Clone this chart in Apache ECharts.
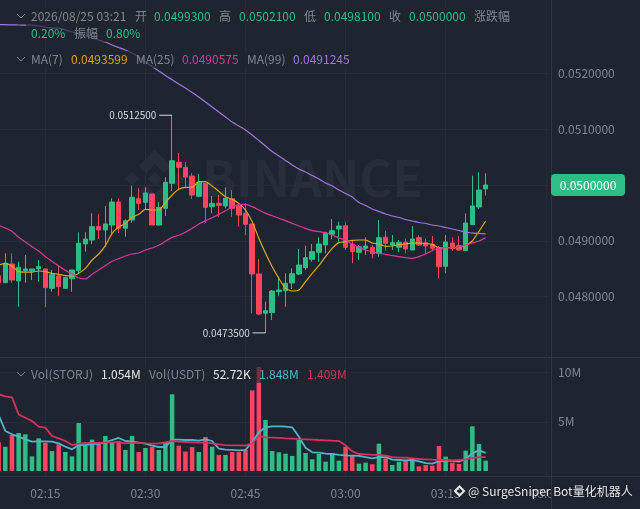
<!DOCTYPE html>
<html><head><meta charset="utf-8">
<style>html,body{margin:0;padding:0;background:#1f2530}#c{width:640px;height:509px}</style>
<script src="https://cdn.jsdelivr.net/npm/echarts@6/dist/echarts.min.js"></script>
</head><body><div id="c"></div>
<script>
const opens=[0.048375,0.048249,0.048584,0.04828,0.048464,0.048459,0.048495,0.048495,0.048149,0.048369,0.048149,0.048321,0.048464,0.048943,0.049014,0.049253,0.049194,0.049283,0.049695,0.049224,0.049373,0.049754,0.04969,0.049839,0.049283,0.049582,0.05003,0.050407,0.050317,0.050161,0.049798,0.05003,0.049611,0.049672,0.049624,0.049754,0.049624,0.049493,0.049301,0.048405,0.047701,0.047712,0.048088,0.048106,0.048244,0.048405,0.048518,0.048669,0.048794,0.048925,0.049117,0.049212,0.049271,0.048937,0.048794,0.048866,0.048884,0.048776,0.049063,0.048925,0.048884,0.048973,0.048835,0.049056,0.048966,0.048937,0.048876,0.048543,0.048961,0.048912,0.048823,0.049289,0.049606,0.04993];
const closes=[0.048249,0.048597,0.048298,0.048525,0.048495,0.048495,0.048536,0.04816,0.048393,0.048178,0.048339,0.048477,0.048955,0.049032,0.049253,0.049194,0.049301,0.049695,0.049224,0.04936,0.04978,0.049672,0.049857,0.049283,0.0496,0.050048,0.050435,0.050317,0.050143,0.049821,0.050048,0.0496,0.049672,0.049636,0.049762,0.049582,0.049462,0.049296,0.048405,0.047688,0.047747,0.0481,0.048118,0.048238,0.04841,0.048566,0.048697,0.048805,0.048943,0.049134,0.049181,0.049265,0.048884,0.048805,0.048894,0.048907,0.048769,0.049056,0.048955,0.048966,0.048973,0.048853,0.049032,0.048925,0.048907,0.048866,0.048536,0.048979,0.048866,0.048835,0.049319,0.049624,0.04991,0.05];
const lows=[0.048249,0.048249,0.048249,0.047819,0.048249,0.048298,0.048267,0.047808,0.048088,0.048016,0.048136,0.048088,0.048418,0.048805,0.048943,0.049032,0.048894,0.049134,0.04914,0.049074,0.049324,0.049552,0.049552,0.049283,0.049271,0.049444,0.049892,0.04991,0.049941,0.049749,0.04978,0.049324,0.049493,0.049432,0.049582,0.049432,0.049253,0.049104,0.047701,0.04767,0.04735,0.047581,0.048016,0.047819,0.048136,0.048387,0.048477,0.048626,0.048626,0.048776,0.049027,0.048984,0.048835,0.048597,0.048656,0.048746,0.048686,0.048715,0.048823,0.048835,0.048794,0.048776,0.048835,0.048907,0.048764,0.048835,0.048328,0.048418,0.048823,0.048823,0.048823,0.049289,0.04957,0.04981];
const highs=[0.048375,0.048776,0.048776,0.048626,0.048746,0.048495,0.048656,0.048495,0.048477,0.048554,0.048357,0.048477,0.049152,0.049152,0.049493,0.04948,0.049624,0.049762,0.049762,0.049385,0.049987,0.049941,0.049959,0.049839,0.049695,0.050138,0.05125,0.050573,0.050412,0.05021,0.050197,0.05003,0.049803,0.049826,0.049959,0.04991,0.049672,0.049672,0.049301,0.048674,0.047909,0.048118,0.048357,0.048418,0.048507,0.048853,0.048912,0.048943,0.049063,0.049163,0.049391,0.049342,0.049332,0.049014,0.048925,0.049063,0.048925,0.049373,0.049181,0.049104,0.049014,0.049045,0.049265,0.049104,0.049045,0.049086,0.048907,0.049104,0.049063,0.049086,0.049493,0.050167,0.050228,0.05021];
const ma7=[0.048566,0.048596,0.048548,0.048447,0.04844,0.04844,0.048459,0.048447,0.048417,0.048399,0.048375,0.048369,0.048417,0.048507,0.048656,0.048763,0.048913,0.049134,0.049241,0.049313,0.04942,0.049474,0.049564,0.049552,0.049552,0.049683,0.04982,0.049922,0.049958,0.049958,0.05006,0.05006,0.049982,0.049886,0.04979,0.049743,0.049671,0.049552,0.049343,0.049044,0.048775,0.048536,0.048327,0.048148,0.0481,0.048118,0.048268,0.048417,0.048554,0.048716,0.048865,0.048967,0.048985,0.049008,0.049014,0.049014,0.04896,0.048943,0.0489,0.048907,0.048931,0.048943,0.04896,0.04896,0.048949,0.048937,0.048877,0.048877,0.048877,0.048883,0.048919,0.048997,0.04917,0.049355];
const ma25=[0.049277,0.04923,0.04917,0.049062,0.048979,0.048895,0.048817,0.048716,0.048632,0.048548,0.04847,0.048405,0.048333,0.048316,0.048399,0.048477,0.048554,0.048632,0.04868,0.048728,0.048763,0.048781,0.048835,0.048871,0.048919,0.04899,0.049062,0.0491,0.049152,0.049223,0.049301,0.049361,0.049414,0.049474,0.04954,0.0496,0.049647,0.049653,0.049612,0.049552,0.049492,0.04945,0.049403,0.049361,0.049313,0.049265,0.049223,0.049182,0.049164,0.049146,0.049104,0.04905,0.049014,0.048937,0.048883,0.048835,0.048799,0.048776,0.048758,0.048734,0.048716,0.048698,0.048686,0.048716,0.048764,0.048823,0.048871,0.048877,0.048877,0.048883,0.048925,0.04896,0.048997,0.049057];
const ma99=[0.052873,0.052873,0.052869,0.052867,0.052865,0.052864,0.052849,0.052831,0.052813,0.05281,0.052781,0.052742,0.05271,0.05267,0.052634,0.052598,0.052563,0.052509,0.052464,0.052419,0.052365,0.052294,0.052204,0.052124,0.052043,0.051962,0.051887,0.05181,0.051738,0.051658,0.051577,0.051487,0.051398,0.051308,0.051219,0.051129,0.051057,0.050986,0.050896,0.050797,0.050699,0.0506,0.05052,0.050439,0.050358,0.050287,0.050233,0.05017,0.050108,0.050036,0.049982,0.04991,0.049848,0.049785,0.049686,0.049633,0.04957,0.049525,0.04948,0.049444,0.049418,0.049382,0.049355,0.049328,0.04931,0.049283,0.049265,0.049238,0.049212,0.049185,0.049158,0.049136,0.049131,0.049125];
const volumes=[2.92,2.47,3.66,3.86,3.73,1.49,3.32,2.88,2.03,2.71,1.93,1.49,4.88,2.58,3.19,2.71,3.56,2.92,3.05,2.14,3.56,1.93,2.34,2.47,2.14,2.92,7.8,2.58,1.97,2.44,1.93,3.46,2.47,1.63,1.63,1.93,1.93,2.14,8.2,10.58,5.19,2.03,1.9,1.76,1.53,3.15,1.83,1.19,1.73,0.95,1.76,1.05,2.47,1.53,0.75,0.85,0.68,2.78,1.29,0.61,0.92,1.12,1.22,0.47,0.61,0.54,2.54,1.46,0.85,0.71,2.07,4.54,2.75,1.054];
const volMaShort=[5.7,4.07,3.73,3.49,3.22,2.98,3.02,3.02,2.98,2.81,2.47,2.2,2.64,2.64,2.75,2.75,2.92,3.15,3.36,3.05,2.98,2.88,2.78,2.58,2.44,2.44,3.19,3.19,3.15,3.15,3.08,3.22,3.05,2.27,2.17,2.14,2.1,2.14,2.92,3.93,4.44,4.54,4.54,4.51,4.44,3.49,2.37,1.9,1.86,1.76,1.73,1.63,1.59,1.56,1.53,1.42,1.29,1.42,1.42,1.15,1.12,1.08,1.12,0.98,0.81,0.75,0.98,1.02,1.02,0.95,1.22,1.8,2.1,1.848];
const volMaLong=[7.8,7.59,7.49,5.76,5.42,5.08,4.51,4.41,3.56,3.32,3.05,2.64,2.78,2.85,2.85,2.85,2.92,2.92,2.92,2.81,2.85,2.85,2.81,2.78,2.81,2.92,3.05,2.98,2.95,2.92,2.88,2.88,2.81,2.71,2.64,2.61,2.61,2.58,2.81,3.56,3.42,3.39,3.36,3.32,3.29,3.25,3.22,3.19,3.15,3.12,3.08,3.05,2.61,2,1.73,1.69,1.63,1.63,1.56,1.42,1.36,1.36,1.29,1.22,1.19,1.15,1.12,1.12,1.08,1.12,1.19,1.32,1.42,1.409];
const startMinute=128, slotCount=83;
const categories=[];
for(let i=0;i<slotCount;i++){const m=startMinute+i;categories.push(String(Math.floor(m/60)).padStart(2,'0')+':'+String(m%60).padStart(2,'0'));}
const isQuarter=(i)=>(startMinute+i)%15===0;

const UP='#2ebd85',DOWN='#fb4560',BG='#1f2530',GRID='#272d38',SEP='#2e3540',MUTED='#7f8793';
const FONT='"Noto Sans CJK SC","Noto Sans",sans-serif';
const LEFT=-4.71, WIDTH=553.8;
const chart=echarts.init(document.getElementById('c'),null,{renderer:'canvas'});
const candleData=opens.map((o,i)=>[o,closes[i],lows[i],highs[i]]);
const volData=volumes.map((v,i)=>({value:v,itemStyle:{color:closes[i]>=opens[i]?UP:DOWN}}));
const tagLabel=(text)=>({show:true,position:'left',distance:0,
  formatter:'{t|'+text+'} {d|}',
  rich:{t:{color:'#d5d9df',fontSize:10,fontFamily:FONT},d:{width:13,height:1,backgroundColor:'#d5d9df'}}});

const txt=(x,y,s,fill,size)=>({type:'text',x:x,y:y,silent:true,z:60,style:{text:s,fill:fill,font:(size||12)+'px '+FONT,textVerticalAlign:'middle'}});
const rect=(x,y,w,h,fill,z)=>({type:'rect',silent:true,z:z||50,shape:{x:x,y:y,width:w,height:h},style:{fill:fill}});
const hline=(y)=>({type:'line',silent:true,z:40,shape:{x1:0,y1:y,x2:640,y2:y},style:{stroke:SEP,lineWidth:1}});
const vline=(x)=>({type:'line',silent:true,z:40,shape:{x1:x,y1:0,x2:x,y2:509},style:{stroke:SEP,lineWidth:1}});
const chev=(x,y)=>({type:'polyline',silent:true,z:60,shape:{points:[[x,y-2],[x+4,y+2],[x+8,y-2]]},style:{stroke:MUTED,lineWidth:1,fill:null}});
const mark='#282e39';
const diamond=(cx,cy,r)=>({type:'polygon',silent:true,z:0,shape:{points:[[cx,cy-r],[cx+r,cy],[cx,cy+r],[cx-r,cy]]},style:{fill:mark}});

const graphics=[
  {type:'text',x:202,y:178,silent:true,z:0,style:{text:'BINANCE',fill:mark,font:'bold 50px '+FONT,textVerticalAlign:'middle'}},
  diamond(132,179,7),diamond(155,179,7),diamond(178,179,7),
  {type:'polygon',silent:true,z:0,shape:{points:[[155,150],[171,166],[164,173],[155,164],[146,173],[139,166]]},style:{fill:mark}},
  {type:'polygon',silent:true,z:0,shape:{points:[[155,208],[171,192],[164,185],[155,194],[146,185],[139,192]]},style:{fill:mark}},
  hline(357.5),hline(476.5),vline(551.5),
  rect(26,8,485,17,'rgba(31,37,48,0.65)'),rect(26,25,115,17,'rgba(31,37,48,0.65)'),rect(26,51,325,17,'rgba(31,37,48,0.65)'),rect(26,366,324,17,'rgba(31,37,48,0.65)'),
  chev(17,16),txt(31,16,'2026/08/25 03:21',MUTED),
  txt(135,16,'开',MUTED),txt(154,16,'0.0499300',UP),
  txt(219,16,'高',MUTED),txt(239,16,'0.0502100',UP),
  txt(304,16,'低',MUTED),txt(324,16,'0.0498100',UP),
  txt(389,16,'收',MUTED),txt(409,16,'0.0500000',UP),
  txt(474,16,'涨跌幅',MUTED),
  txt(31,33,'0.20%',UP),txt(74,33,'振幅',MUTED),txt(106,33,'0.80%',UP),
  chev(17,59),txt(31,59,'MA(7)',MUTED),txt(71,59,'0.0493599','#dba50f'),
  txt(136,59,'MA(25)',MUTED),txt(182,59,'0.0490575','#d9389f'),
  txt(247,59,'MA(99)',MUTED),txt(293,59,'0.0491245','#a374e6'),
  chev(17,374),txt(31,374,'Vol(STORJ)',MUTED),txt(101,374,'1.054M','#e6e8ea'),
  txt(149,374,'Vol(USDT)',MUTED),txt(213,374,'52.72K','#e6e8ea'),
  txt(259,374,'1.848M','#4fb3cf'),txt(307,374,'1.409M','#d6315f'),
  rect(552,478,88,31,BG,45),
  {type:'polygon',silent:true,z:70,shape:{points:[[455,491],[459.5,486.5],[464,491],[459.5,495.5]]},style:{fill:null,stroke:'#e6e8ea',lineWidth:2}},
  {type:'text',x:468,y:491,silent:true,z:70,style:{text:'@ SurgeSniper Bot量化机器人',fill:'#e6e8ea',font:'12px '+FONT,textVerticalAlign:'middle',textShadowColor:'#10141a',textShadowBlur:3}}
];

const gridBase={left:LEFT,width:WIDTH,containLabel:false,outerBoundsMode:'none'};
chart.setOption({
  animation:false,backgroundColor:BG,textStyle:{fontFamily:FONT},
  grid:[
    Object.assign({top:17.6,height:334.8},gridBase),
    Object.assign({top:362.8,height:108.2},gridBase),
    Object.assign({top:0,height:477},gridBase)
  ],
  xAxis:[
    {type:'category',gridIndex:0,data:categories,boundaryGap:true,show:false},
    {type:'category',gridIndex:1,data:categories,boundaryGap:true,show:false},
    {type:'category',gridIndex:2,data:categories,boundaryGap:true,
      axisLine:{show:false},axisTick:{show:false,alignWithLabel:true,interval:(i)=>isQuarter(i)},
      axisLabel:{color:MUTED,fontSize:12,margin:10,interval:(i)=>isQuarter(i),fontFamily:FONT,hideOverlap:false},
      splitLine:{show:true,alignWithLabel:true,interval:(i)=>isQuarter(i),lineStyle:{color:GRID,width:1}}}
  ],
  yAxis:[
    {type:'value',gridIndex:0,position:'right',offset:2,min:0.047,max:0.053,interval:0.001,
      axisLine:{show:false},axisTick:{show:false},
      axisLabel:{color:MUTED,fontSize:12,margin:7,showMinLabel:false,showMaxLabel:false,fontFamily:FONT,formatter:(v)=>v.toFixed(7)},
      splitLine:{show:true,showMinLine:false,showMaxLine:false,lineStyle:{color:GRID,width:1}}},
    {type:'value',gridIndex:1,position:'right',offset:2,min:0,max:11,interval:5,
      axisLine:{show:false},axisTick:{show:false},
      axisLabel:{color:MUTED,fontSize:12,margin:7,showMinLabel:false,showMaxLabel:false,fontFamily:FONT,formatter:(v)=>v+'M'},
      splitLine:{show:true,showMinLine:false,showMaxLine:false,lineStyle:{color:GRID,width:1}}},
    {type:'value',gridIndex:2,min:0,max:1,show:false,splitLine:{show:false}}
  ],
  series:[
    {type:'candlestick',name:'K',xAxisIndex:0,yAxisIndex:0,data:candleData,barWidth:5,z:3,
      itemStyle:{color:UP,color0:DOWN,borderColor:UP,borderColor0:DOWN,borderWidth:1},
      markPoint:{symbol:'rect',symbolSize:0,silent:true,animation:false,data:[
        {coord:[26,0.05125],label:tagLabel('0.0512500')},
        {coord:[40,0.04735],label:tagLabel('0.0473500')}
      ]}},
    {type:'line',name:'MA7',xAxisIndex:0,yAxisIndex:0,data:ma7,showSymbol:false,smooth:0.2,z:4,lineStyle:{color:'#e0a80c',width:1.2}},
    {type:'line',name:'MA25',xAxisIndex:0,yAxisIndex:0,data:ma25,showSymbol:false,smooth:0.2,z:4,lineStyle:{color:'#d9389f',width:1.2}},
    {type:'line',name:'MA99',xAxisIndex:0,yAxisIndex:0,data:ma99,showSymbol:false,smooth:0.2,z:4,lineStyle:{color:'#a374e6',width:1.2}},
    {type:'bar',name:'Vol',xAxisIndex:1,yAxisIndex:1,data:volData,barWidth:4.5,z:3},
    {type:'line',name:'VolShort',xAxisIndex:1,yAxisIndex:1,data:volMaShort,showSymbol:false,z:4,lineStyle:{color:'#4fb3cf',width:1.8}},
    {type:'line',name:'VolLong',xAxisIndex:1,yAxisIndex:1,data:volMaLong,showSymbol:false,z:4,lineStyle:{color:'#d6315f',width:1.8}}
  ],
  graphic:{elements:graphics}
});
const lastClose=closes[closes.length-1];
const tagY=chart.convertToPixel({yAxisIndex:0},lastClose);
chart.setOption({graphic:{elements:graphics.concat([
  {type:'rect',silent:true,z:65,shape:{x:551,y:tagY-11,width:74,height:22,r:4},style:{fill:UP}},
  {type:'text',silent:true,z:66,x:588,y:tagY,style:{text:lastClose.toFixed(7),fill:'#fff',font:'12px '+FONT,textAlign:'center',textVerticalAlign:'middle'}}
])}});
</script></body></html>
